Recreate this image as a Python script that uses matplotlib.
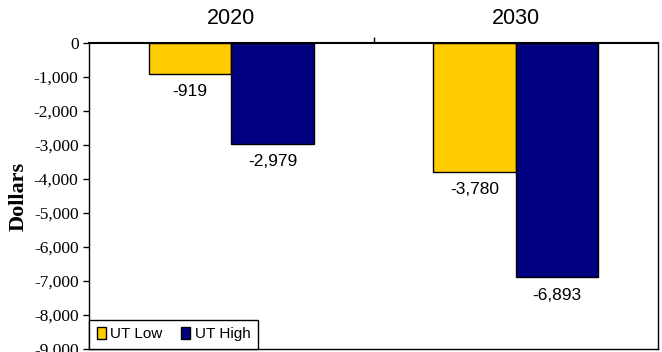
import numpy as np
import matplotlib.pyplot as plt

# data
years = ["2020", "2030"]
ut_low = [-919, -3780]
ut_high = [-2979, -6893]
series_names = ["UT Low", "UT High"]
y_ticks = [0, -1000, -2000, -3000, -4000, -5000, -6000, -7000, -8000, -9000]

narrow = ["Liberation Sans Narrow", "Liberation Sans", "DejaVu Sans"]
serif = ["Liberation Serif", "DejaVu Serif"]

# tick labels use the serif face, everything else is set per text
plt.rcParams["font.family"] = serif

fig = plt.figure(figsize=(6.62, 3.52), dpi=100)
ax = fig.add_axes([89 / 662, 1 - 349 / 352, (658 - 89) / 662, (349 - 43) / 352])

x = np.arange(len(years))
w = 0.29
ax.bar(x - w / 2, ut_low, w, color="#FFCC00", edgecolor="black", linewidth=1, label=series_names[0])
ax.bar(x + w / 2, ut_high, w, color="#000080", edgecolor="black", linewidth=1, label=series_names[1])

# value labels below the bars
for i in range(len(years)):
    for off, v in [(-w / 2, ut_low[i]), (w / 2, ut_high[i])]:
        ax.text(x[i] + off, v - 300, f"{v:,}", ha="center", va="top",
                fontsize=12.5, family=narrow)

ax.set_xlim(-0.5, 1.5)
ax.set_ylim(-9000, 0)

# x axis sits on top at zero, only a separator tick
ax.xaxis.tick_top()
ax.set_xticks([0.5])
ax.set_xticklabels([""])
ax.tick_params(axis="x", direction="out", length=4, width=1)
for i, yr in enumerate(years):
    ax.text(x[i], 400, yr, ha="center", va="bottom", fontsize=15.5, family=narrow)

ax.set_yticks(y_ticks)
ax.set_yticklabels([f"{v:,}" for v in y_ticks])
ax.tick_params(axis="y", direction="out", length=4, width=1, labelsize=12.5)

ax.set_ylabel("Dollars", fontsize=16, fontweight="bold", family=serif, labelpad=4)

for s in ax.spines.values():
    s.set_linewidth(1)
ax.spines["top"].set_linewidth(1.5)

leg = ax.legend(loc="lower left", borderaxespad=0, ncol=2,
                prop={"family": narrow, "size": 11},
                fancybox=False, edgecolor="black", framealpha=1,
                handlelength=0.6, handleheight=0.8, columnspacing=1.2,
                handletextpad=0.3, borderpad=0.5)
leg.get_frame().set_linewidth(1)

fig.savefig("out.png", dpi=100)
